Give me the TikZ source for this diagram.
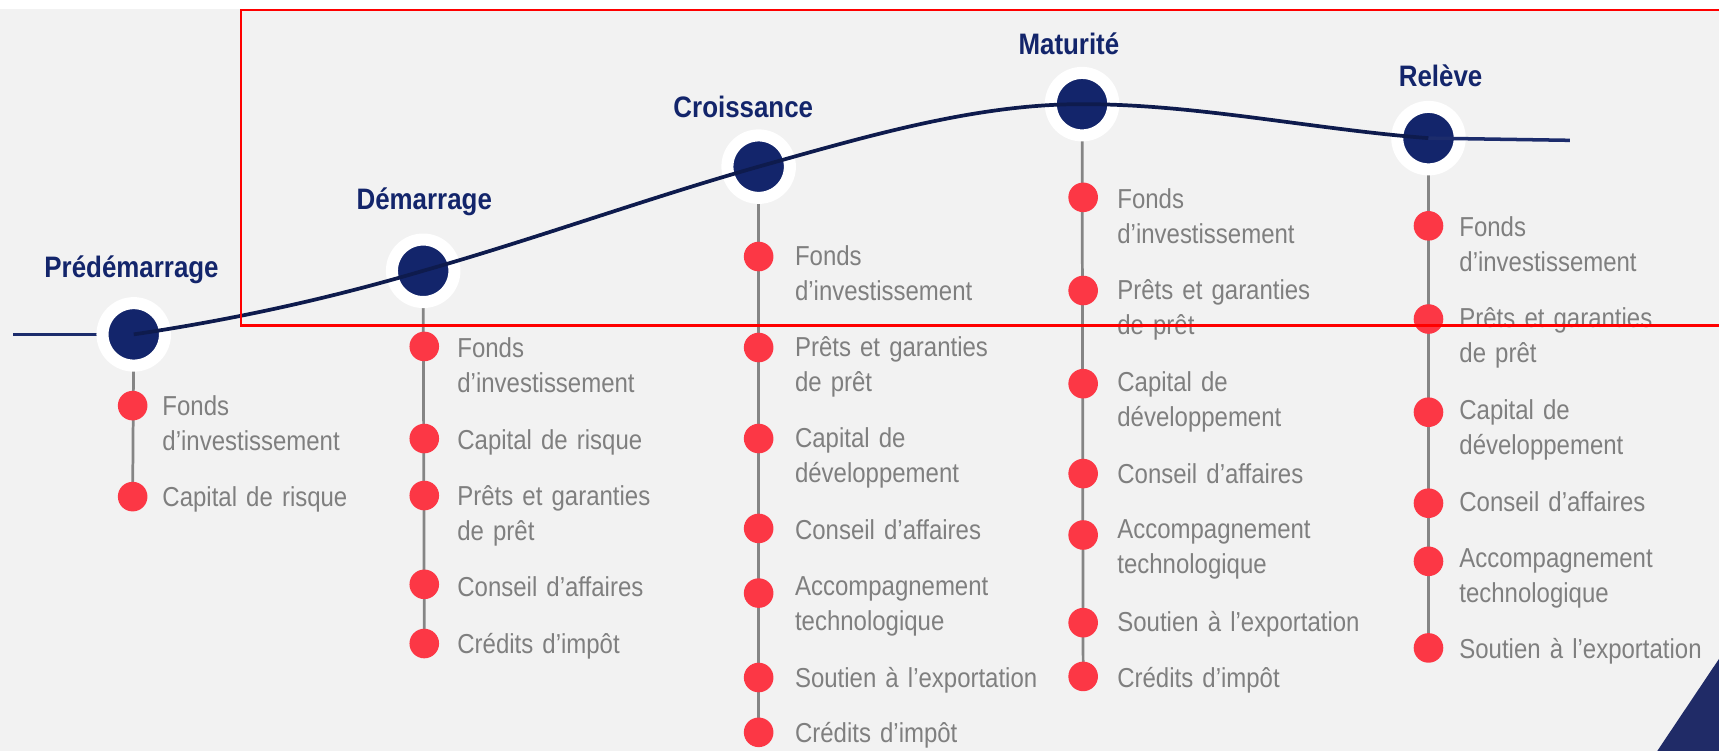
\documentclass[tikz,border=0pt]{standalone}
\usepackage{fontspec}
\newfontfamily\narrowfont[FakeStretch=0.875]{Liberation Sans}
\newcommand\myitemfont{\narrowfont\fontsize{25}{32}\selectfont\setlength{\spaceskip}{5pt plus 1pt minus 1pt}}
\definecolor{bggray}{HTML}{F2F2F2}
\definecolor{navy}{HTML}{13256B}
\definecolor{curvenavy}{HTML}{0E1B4D}
\definecolor{hnavy}{HTML}{1C2C6C}
\definecolor{bulletred}{HTML}{FC3745}
\definecolor{textgray}{HTML}{7F7F7F}
\definecolor{linegray}{HTML}{858585}
\definecolor{framered}{HTML}{FF0000}
\definecolor{trinavy}{HTML}{202B67}
\pgfdeclarelayer{bg}
\pgfdeclarelayer{lines}
\pgfsetlayers{bg,lines,main}
\tikzset{
  stage/.style={circle, fill=navy, draw=white, line width=11pt, minimum size=57pt, inner sep=0pt},
  dot/.style={circle, fill=bulletred, minimum size=27pt, inner sep=0pt},
  item/.style={anchor=base west, inner sep=0pt, text width=260pt, align=left, text=textgray,
    font=\myitemfont},
  stagelabel/.style={anchor=base, inner sep=0pt, text=navy,
    font=\narrowfont\bfseries\fontsize{27}{32}\selectfont},
  vline/.style={draw=linegray, line width=2.5pt},
  curveline/.style={draw=curvenavy, line width=3.4pt},
  hline/.style={draw=hnavy, line width=3.2pt},
  frame/.style={draw=framered, line width=2.2pt},
}
\begin{document}
\begin{tikzpicture}[x=1pt,y=-1pt]
\useasboundingbox (0,0) rectangle (1568,685);
\clip (0,0) rectangle (1568,685);
\begin{pgfonlayer}{bg}
\fill[white] (0,0) rectangle (1568,685);
\fill[bggray] (0,8) rectangle (1568,685);
\fill[trinavy] (1568,601) -- (1511,686) -- (1569,686) -- cycle;
\end{pgfonlayer}

% stage circles
\node[stage] (s1) at (122,305) {};
\node[stage] (s2) at (386,247) {};
\node[stage] (s3) at (692,152) {};
\node[stage] (s4) at (987,95) {};
\node[stage] (s5) at (1303,126) {};

% stage labels
\node[stagelabel] (l1) at (120,253) {Prédémarrage};
\node[stagelabel] (l2) at (387,191) {Démarrage};
\node[stagelabel] (l3) at (678,107) {Croissance};
\node[stagelabel] (l4) at (975,50) {Maturité};
\node[stagelabel] (l5) at (1314,79) {Relève};

% column 1
\node[dot] (a1) at (121,370) {};
\node[dot] (a2) at (121,453) {};
\node[item] (ta1) at (148,379) {Fonds\\d’investissement};
\node[item] (ta2) at (148,462) {Capital de risque};

% column 2
\node[dot] (b1) at (387,316) {};
\node[dot] (b2) at (387,400) {};
\node[dot] (b3) at (387,452) {};
\node[dot] (b4) at (387,533) {};
\node[dot] (b5) at (387,587) {};
\node[item] (tb1) at (417,326) {Fonds\\d’investissement};
\node[item] (tb2) at (417,410) {Capital de risque};
\node[item] (tb3) at (417,461) {Prêts et garanties\\de prêt};
\node[item] (tb4) at (417,544) {Conseil d’affaires};
\node[item] (tb5) at (417,596) {Crédits d’impôt};

% column 3
\node[dot] (c1) at (692,234) {};
\node[dot] (c2) at (692,317) {};
\node[dot] (c3) at (692,400) {};
\node[dot] (c4) at (692,482) {};
\node[dot] (c5) at (692,541) {};
\node[dot] (c6) at (692,618) {};
\node[dot] (c7) at (692,668) {};
\node[item] (tc1) at (725,242) {Fonds\\d’investissement};
\node[item] (tc2) at (725,325) {Prêts et garanties\\de prêt};
\node[item] (tc3) at (725,408) {Capital de\\développement};
\node[item] (tc4) at (725,492) {Conseil d’affaires};
\node[item] (tc5) at (725,543) {Accompagnement\\technologique};
\node[item] (tc6) at (725,627) {Soutien à l’exportation};
\node[item] (tc7) at (725,677) {Crédits d’impôt};

% column 4
\node[dot] (d1) at (988,180) {};
\node[dot] (d2) at (988,265) {};
\node[dot] (d3) at (988,350) {};
\node[dot] (d4) at (988,432) {};
\node[dot] (d5) at (988,488) {};
\node[dot] (d6) at (988,568) {};
\node[dot] (d7) at (988,617) {};
\node[item] (td1) at (1019,190) {Fonds\\d’investissement};
\node[item] (td2) at (1019,273) {Prêts et garanties\\de prêt};
\node[item] (td3) at (1019,357) {Capital de\\développement};
\node[item] (td4) at (1019,441) {Conseil d’affaires};
\node[item] (td5) at (1019,491) {Accompagnement\\technologique};
\node[item] (td6) at (1019,576) {Soutien à l’exportation};
\node[item] (td7) at (1019,627) {Crédits d’impôt};

% column 5
\node[dot] (e1) at (1303,206) {};
\node[dot] (e2) at (1303,291) {};
\node[dot] (e3) at (1303,376) {};
\node[dot] (e4) at (1303,459) {};
\node[dot] (e5) at (1303,512) {};
\node[dot] (e6) at (1303,591) {};
\node[item] (te1) at (1331,216) {Fonds\\d’investissement};
\node[item] (te2) at (1331,299) {Prêts et garanties\\de prêt};
\node[item] (te3) at (1331,383) {Capital de\\développement};
\node[item] (te4) at (1331,467) {Conseil d’affaires};
\node[item] (te5) at (1331,518) {Accompagnement\\technologique};
\node[item] (te6) at (1331,601) {Soutien à l’exportation};

% vertical stems and left line (behind)
\coordinate (lstart) at (12,305);
\coordinate (rend) at (1432,128);
\begin{pgfonlayer}{lines}
\draw[vline] (s1.center) -- (a2.center);
\draw[vline] (s2.center) -- (b5.center);
\draw[vline] (s3.center) -- (c7.center);
\draw[vline] (s4.center) -- (d7.center);
\draw[vline] (s5.center) -- (e6.center);
\draw[hline] (lstart) -- (s1.center);
\end{pgfonlayer}

% growth curve
\draw[curveline] (s1.center) .. controls (210,292) and (298,273) .. (s2.center)
  .. controls (488,218) and (590,181) .. (s3.center)
  .. controls (790,124.5) and (889,95) .. (s4.center)
  .. controls (1092,95) and (1198,118) .. (s5.center);
\draw[hline] (s5.center) -- (rend);

% red frame
\draw[frame] (1580,9) -- (220,9) -- (220,297) -- (1580,297);
\end{tikzpicture}
\end{document}
